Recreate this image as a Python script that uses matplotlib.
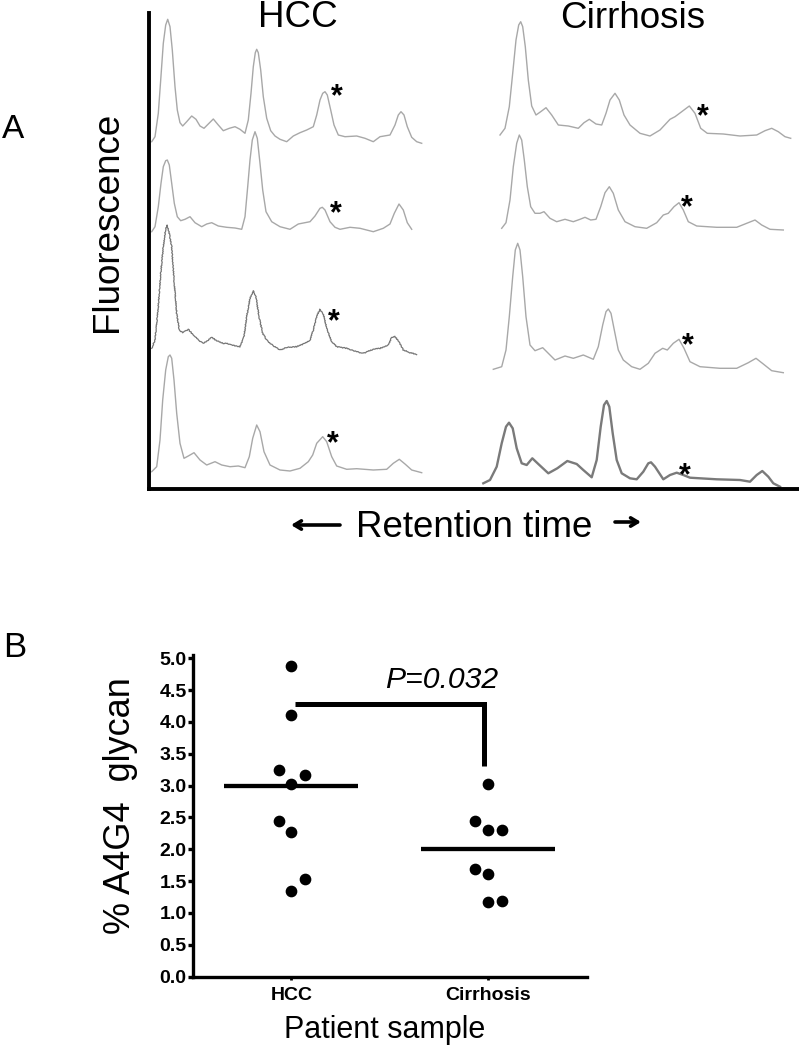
from matplotlib import pyplot as plt

plt.rcParams["font.family"] = ["Liberation Sans", "DejaVu Sans"]

W, H = 799, 1050

hcc1_rt = [3.7, 7, 10.3, 12.7, 15.3, 17.7, 19.7, 22, 24.3, 27, 29.3, 32, 34.7, 38.7, 43.7,
           48, 52, 56, 60.3, 65.3, 70.3, 75.3, 81.3, 87, 92, 97, 100.3, 103, 105.3, 107.3,
           108.7, 110.3, 112.7, 115.3, 118.7, 122.7, 127, 132, 138.7, 145.3, 152, 158.7,
           165.3, 168.7, 172, 174.7, 177, 179.3, 182.7, 186, 190.3, 197, 208.7, 217, 225.3,
           232, 242, 247, 250.3, 253, 256, 259.3, 263.7, 268.7, 273.7]
hcc1_fl = [348.3, 353.3, 376.7, 410, 446.7, 465, 470.7, 463.3, 440, 403.3, 380, 367.3, 364,
           368.3, 374, 370.7, 364, 361.7, 366, 371, 365, 359.3, 361.7, 363.3, 360.7, 356.7,
           370, 396.7, 423.3, 437.3, 440.7, 437.3, 420, 393.3, 371.7, 359.3, 354, 350.7,
           348.3, 354, 357.3, 360, 363.3, 375, 390, 396.7, 398.3, 395, 380, 365, 355, 353.3,
           354, 351.7, 348.3, 353.3, 355, 365, 375, 378.3, 375, 363.3, 352.7, 348.3, 346.7]

hcc2_rt = [3.7, 7, 10.3, 13, 15.3, 17.7, 19.3, 21.3, 23.7, 26.3, 29.3, 32.7, 37, 42, 47,
           53.7, 58.7, 63.7, 70.3, 78.7, 87, 93.7, 97, 99.7, 102, 104.3, 107, 109.3, 112,
           114.7, 118, 123.7, 132, 142, 150.3, 162, 167, 172, 174.3, 177, 182, 187, 192, 202,
           212, 225.3, 235.3, 242, 246.3, 251, 255.3, 259.3, 263.7]
hcc2_fl = [258.3, 263.3, 283.3, 306.7, 323.3, 329.3, 330, 325, 306.7, 286.7, 273.3, 269.3,
           270.7, 273.3, 267.3, 263.3, 266, 267.3, 264, 262.7, 262, 260.7, 273.3, 303.3, 330,
           350, 358.3, 351.7, 326.7, 300, 278.3, 268.3, 263.3, 260.7, 266, 268.3, 274, 281.7,
           282.7, 280, 268.3, 262.7, 260.7, 262.7, 261.7, 258.3, 261.7, 266, 276.7, 286, 280,
           267.3, 260.7]

hcc3_rt = [3.7, 7, 10.3, 12.7, 15.3, 17.5, 19, 21, 23.7, 26, 28.7, 31.3, 34.7, 40.3, 45.3,
           50.3, 55.3, 60.3, 63.7, 68.7, 75.3, 82, 87, 92, 96, 98.7, 102, 105.3, 108, 111,
           114.7, 118.7, 125.3, 132, 138.7, 148.7, 157, 162, 165.3, 168.7, 172, 175.3, 178.7,
           183.7, 188.7, 198.7, 208.7, 215.3, 225.3, 232, 240.3, 243.7, 247, 250.3, 255.3,
           262, 268.7]
hcc3_fl = [141.7, 150, 183.3, 216.7, 243.3, 260, 265, 258, 243.3, 210, 176.7, 160, 157.3,
           160.7, 155, 150, 146.7, 150, 152.7, 149.3, 146.7, 146, 144, 143.3, 153.3, 173.3,
           191.7, 199.3, 193.3, 173.3, 156.7, 150, 144, 140, 142.7, 143.3, 146.7, 150, 160,
           174, 180.7, 176, 161.7, 148.3, 143.3, 141.7, 138.3, 136.7, 140.7, 141.7, 145,
           152.7, 153.3, 149.3, 140, 137.3, 135.7]

hcc4_rt = [3.7, 8.7, 12, 14.7, 17.7, 20.3, 22, 23.7, 26, 28.7, 32, 36, 40.3, 46, 52, 58.7,
           67, 73.7, 82, 90.3, 97, 101.3, 104.7, 108.7, 112, 116, 122, 132, 142, 152, 160.3,
           164.7, 168.7, 174.7, 178.7, 183.7, 188.7, 198.7, 208.7, 225.3, 238.7, 245.3, 251.3,
           257, 263.7, 273.7]
hcc4_fl = [18.3, 23.3, 50, 90, 120, 133.3, 135, 131.7, 110, 76.7, 46.7, 31.7, 34, 37.3, 30,
           25, 28.3, 25, 23.3, 24, 22.3, 33.3, 51.7, 65, 58.3, 38.3, 25, 20, 19, 21.7, 28.3,
           35, 46.7, 53.3, 48.3, 33.3, 24, 20.7, 21.3, 20, 20.7, 26.7, 30.7, 26, 20, 17.3]

cir1_rt = [352, 357, 361.3, 364.7, 368, 370.7, 372.7, 374.7, 377.3, 380.3, 383.7, 388, 392.7,
           398, 403.7, 410.3, 420.3, 430.3, 436, 441.3, 448, 453.7, 458, 462, 467, 471.3,
           476, 482, 492, 502, 512, 522, 527, 533.7, 541.3, 547, 552.7, 559.3, 575.3, 592,
           608.7, 617, 623.7, 630.3, 637, 642.7]
cir1_fl = [355, 361.7, 383.3, 416.7, 450, 465, 468.3, 463.3, 443.3, 410, 384, 375, 378.3,
           382.3, 375, 365, 364, 361.7, 367.3, 370.7, 366, 365, 376.7, 390, 396.7, 390, 375,
           365, 356.7, 354, 360, 370.7, 373.3, 378.3, 384, 376.7, 361.7, 356.7, 356, 354,
           355, 359.3, 361.7, 358.3, 353.3, 351.7]

cir2_rt = [353.7, 358, 362, 365.3, 368.7, 371.3, 373.7, 376.3, 379.3, 382.7, 387, 392, 396,
           402, 408.7, 417, 425.3, 432, 437, 442.7, 448, 452.7, 457, 461.3, 465.3, 470.3, 477,
           487, 498.7, 508.7, 515.3, 520.3, 526, 531, 535.3, 540.3, 548.7, 568.7, 588.7,
           598.7, 607, 613.7, 622, 635.3]
cir2_fl = [261.7, 267.3, 290, 323.3, 346.7, 355, 350, 330, 303.3, 283.3, 276.7, 276.7, 278.3,
           271.7, 268.3, 270.7, 268.3, 270.7, 272.7, 270, 270.7, 283.3, 297.3, 303.3, 296.7,
           280, 268.3, 263.3, 261.7, 267.3, 275, 276.7, 283.3, 287.3, 280, 268.3, 264, 262.7,
           262.7, 266.7, 270, 265, 260.7, 260]

cir3_rt = [345.3, 353.7, 358, 361.3, 364.7, 367.3, 369.7, 372, 374.7, 378, 382, 387, 394.7,
           400.3, 407, 417, 425.3, 435.3, 445.3, 450.3, 454.7, 458, 460.3, 463, 466.3, 470.3,
           475.3, 483.7, 492, 500.3, 507, 514.7, 519.3, 525.3, 531, 536, 542, 552, 572, 588.7,
           600.3, 608, 615.3, 623.7, 635.3]
cir3_fl = [120.7, 123.3, 140, 173.3, 213.3, 240, 246.7, 240, 213.3, 173.3, 145, 139.3, 142.3,
           136.7, 130, 134, 131.7, 135, 130.7, 143.3, 165, 178.3, 181, 176.7, 160, 140, 130,
           123.3, 120.7, 126.7, 136.7, 141.7, 140, 146.7, 150.7, 141.7, 128.3, 123.3, 121.7,
           121.7, 127.3, 131.7, 126, 119.3, 117.3]

cir4_rt = [335.3, 342, 348.7, 353.7, 358, 361, 364.7, 368.7, 373.7, 378.7, 384.3, 390.3,
           400.3, 409.3, 419.3, 428.7, 435.3, 443.7, 448.7, 452.7, 456, 458.7, 461.3, 464.7,
           468.7, 473.7, 482, 488.7, 495.3, 500.3, 503, 507, 515.3, 522, 528.7, 535.3, 542,
           568.7, 592, 602, 608.7, 614.3, 620.3, 625.3, 632]
cir4_fl = [6.7, 10, 23.3, 46.7, 63.3, 67.3, 61.7, 41.7, 26.7, 25, 31.7, 26, 16.7, 21.7, 29,
           26, 20, 12.7, 30, 63.3, 85, 89, 83.3, 56.7, 30, 16.7, 11.7, 10.7, 18.3, 26.7, 27.7,
           23.3, 10.7, 15, 17.3, 15, 12.3, 10.7, 10, 8.3, 15, 19, 13.3, 6.7, 3.3]

# asterisk marks on the A4G4 peak
star_rt = [188.7, 188, 186.3, 184.7, 555.3, 539.3, 540.3, 537]
star_fl = [402, 285, 177.3, 55, 382.3, 290.7, 153.3, 23.3]

# Panel B: % A4G4 glycan per patient
groups = ["HCC", "Cirrhosis"]
hcc_vals = [4.88, 4.11, 3.24, 3.17, 3.02, 2.44, 2.27, 1.53, 1.35]
hcc_jitter = [0, 0, -0.065, 0.068, 0, -0.065, 0, 0.068, 0]
cir_vals = [3.02, 2.45, 2.30, 2.31, 1.69, 1.62, 1.17, 1.19]
cir_jitter = [0, -0.066, 0, 0.068, -0.066, 0, 0, 0.068]
group_means = [3.0, 2.0]
y_ticks = [0.0, 0.5, 1.0, 1.5, 2.0, 2.5, 3.0, 3.5, 4.0, 4.5, 5.0]


def fx(x):
    return x / W


def fy(y):
    return 1 - y / H


fig = plt.figure(figsize=(W / 100, H / 100), dpi=100)

# ---- panel A ----
ax_a = fig.add_axes([fx(149), fy(489), (W - 149) / W, (489 - 13) / H])
light = dict(color="#a8a8a8", lw=1.0)
traces = [
    (hcc1_rt, hcc1_fl, light, None),
    (hcc2_rt, hcc2_fl, light, None),
    (hcc3_rt, hcc3_fl, dict(color="#767676", lw=0.9), (0.45, 2.5, 2)),  # noisy run
    (hcc4_rt, hcc4_fl, light, None),
    (cir1_rt, cir1_fl, light, None),
    (cir2_rt, cir2_fl, light, None),
    (cir3_rt, cir3_fl, light, None),
    (cir4_rt, cir4_fl, dict(color="#7a7a7a", lw=1.7), None),
]
for rt, fl, style, sketch in traces:
    (ln,) = ax_a.plot(rt, fl, solid_joinstyle="round", clip_on=False, **style)
    if sketch is not None:
        ln.set_sketch_params(*sketch)

for x, y in zip(star_rt, star_fl):
    ax_a.annotate("*", xy=(x, y), xytext=(0, -12.5), textcoords="offset points",
                  ha="center", va="baseline", fontsize=22, fontweight="bold",
                  annotation_clip=False)

ax_a.set_xlim(1, 651)
ax_a.set_ylim(1, 477)
ax_a.set_xticks([])
ax_a.set_yticks([])
for side in ("top", "right"):
    ax_a.spines[side].set_visible(False)
for side in ("left", "bottom"):
    ax_a.spines[side].set_linewidth(2.8)
    ax_a.spines[side].set_capstyle("projecting")

fig.text(fx(2), fy(138), "A", fontsize=24, ha="left", va="baseline")
fig.text(fx(297.5), fy(27), "HCC", fontsize=26.5, ha="center", va="baseline")
fig.text(fx(632.5), fy(28), "Cirrhosis", fontsize=26.5, ha="center", va="baseline")
fig.text(fx(108), fy(222), "Fluorescence", fontsize=26.5, rotation=90,
         ha="center", va="center")
fig.text(fx(474), fy(537), "Retention time", fontsize=26.5, ha="center", va="baseline")
arrow = dict(arrowstyle="->,head_length=0.5,head_width=0.3", lw=2.6, color="black",
             shrinkA=0, shrinkB=0)
fig.add_artist(plt.Annotation("", xy=(fx(291), fy(525)), xytext=(fx(340), fy(525)),
                              xycoords="figure fraction", arrowprops=arrow))
fig.add_artist(plt.Annotation("", xy=(fx(641), fy(522)), xytext=(fx(615), fy(522)),
                              xycoords="figure fraction", arrowprops=arrow))

# ---- panel B ----
ax_b = fig.add_axes([fx(193), fy(976.7), (586.7 - 193) / W, (976.7 - 655) / H])
ax_b.scatter([1 + j for j in hcc_jitter], hcc_vals, s=55, color="black", zorder=3)
ax_b.scatter([2 + j for j in cir_jitter], cir_vals, s=55, color="black", zorder=3)
for i, m in enumerate(group_means):
    ax_b.hlines(m, i + 1 - 0.34, i + 1 + 0.34, color="black", lw=3.1)

ax_b.plot([1.017, 1.98, 1.98], [4.283, 4.283, 3.30], color="black", lw=3.6,
          solid_joinstyle="miter", solid_capstyle="butt")
fig.text(fx(441.7), fy(688), "P=0.032", fontsize=21.7, style="italic",
         ha="center", va="baseline")

ax_b.set_xlim(0.5, 2.5)
ax_b.set_ylim(0, 5.05)
ax_b.set_xticks([1, 2])
ax_b.set_xticklabels(groups, fontsize=14, fontweight="bold")
ax_b.set_yticks(y_ticks)
ax_b.set_yticklabels([f"{t:.1f}" for t in y_ticks], fontsize=14, fontweight="bold")
ax_b.tick_params(axis="y", length=3.6, width=2.4, pad=1)
ax_b.tick_params(axis="x", length=2.2, width=2.0, pad=5)
for side in ("top", "right"):
    ax_b.spines[side].set_visible(False)
for side in ("left", "bottom"):
    ax_b.spines[side].set_linewidth(2.4)

fig.text(fx(3), fy(657), "B", fontsize=25, ha="left", va="baseline")
fig.text(fx(120), fy(806), "% A4G4  glycan", fontsize=26, rotation=90,
         ha="center", va="center")
fig.text(fx(385), fy(1038), "Patient sample", fontsize=22, ha="center", va="baseline")

fig.savefig("out.png", dpi=100)
